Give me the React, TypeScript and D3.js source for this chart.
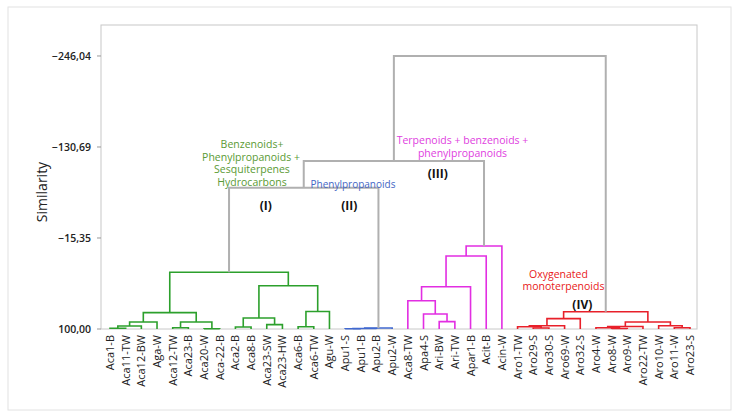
import React from "react";
import * as d3 from "d3";

const leaves = [
  "Aca1-B", "Aca11-TW", "Aca12-BW", "Aga-W", "Aca12-TW", "Aca23-B", "Aca20-W", "Aca-22-B",
  "Aca2-B", "Aca8-B", "Aca23-SW", "Aca23-HW", "Aca6-B", "Aca6-TW", "Agu-W",
  "Apu1-S", "Apu1-B", "Apu2-B", "Apu2-W",
  "Aca8-TW", "Apa4-S", "Ari-BW", "Ari-TW", "Apar1-B", "Acit-B", "Acin-W",
  "Aro1-TW", "Aro29-S", "Aro30-S", "Aro69-W", "Aro32-S", "Aro4-W", "Aro8-W", "Aro9-W",
  "Aro22-TW", "Aro10-W", "Aro11-W", "Aro23-S",
];

// [left child, right child, similarity, group]; "#k" refers to merge k
const merges: [string, string, number, string][] = [
  ["Aca1-B", "Aca11-TW", 99.1, "I"], // 0
  ["#0", "Aca12-BW", 96.2, "I"], // 1
  ["#1", "Aga-W", 91.1, "I"], // 2
  ["Aca12-TW", "Aca23-B", 98.35, "I"], // 3
  ["Aca20-W", "Aca-22-B", 99.6, "I"], // 4
  ["#3", "#4", 91.1, "I"], // 5
  ["#2", "#5", 79.3, "I"], // 6
  ["Aca2-B", "Aca8-B", 97.5, "I"], // 7
  ["Aca23-SW", "Aca23-HW", 94.5, "I"], // 8
  ["#7", "#8", 86.1, "I"], // 9
  ["Aca6-B", "Aca6-TW", 97.1, "I"], // 10
  ["#10", "Agu-W", 77.8, "I"], // 11
  ["#9", "#11", 45.1, "I"], // 12
  ["#6", "#12", 28.1, "I"], // 13
  ["Apu1-S", "Apu1-B", 99.7, "II"], // 14
  ["#14", "Apu2-B", 99.3, "II"], // 15
  ["#15", "Apu2-W", 98.8, "II"], // 16
  ["#13", "#16", -79.1, "root"], // 17
  ["Ari-BW", "Ari-TW", 90.7, "III"], // 18
  ["Apa4-S", "#18", 81.0, "III"], // 19
  ["Aca8-TW", "#19", 64.1, "III"], // 20
  ["#20", "Apar1-B", 46.4, "III"], // 21
  ["#21", "Acit-B", 7.5, "III"], // 22
  ["#22", "Acin-W", -5.2, "III"], // 23
  ["#17", "#23", -112.95, "root"], // 24
  ["Aro29-S", "Aro30-S", 98.7, "IV"], // 25
  ["Aro1-TW", "#25", 97.1, "IV"], // 26
  ["#26", "Aro69-W", 95.8, "IV"], // 27
  ["#27", "Aro32-S", 86.9, "IV"], // 28
  ["Aro8-W", "Aro9-W", 99.4, "IV"], // 29
  ["Aro4-W", "#29", 98.5, "IV"], // 30
  ["#30", "Aro22-TW", 96.8, "IV"], // 31
  ["Aro11-W", "Aro23-S", 98.35, "IV"], // 32
  ["Aro10-W", "#32", 95.8, "IV"], // 33
  ["#31", "#33", 91.1, "IV"], // 34
  ["#28", "#34", 78.1, "IV"], // 35
  ["#24", "#35", -246.04, "root"], // 36
];

const yTicks = [100, -15.35, -130.69, -246.04];

const groupColors: Record<string, string> = {
  I: "#2ca02c",
  II: "#4169d0",
  III: "#e22ee2",
  IV: "#e8202a",
  root: "#b0b0b0",
};

const fmt = d3.formatLocale({ decimal: ",", thousands: ".", grouping: [3], currency: ["", ""] }).format(".2f");

export default function App() {
  const W = 738, H = 418;
  const left = 101, right = 697, top = 25, bottom = 329;
  const x = d3.scalePoint<string>().domain(leaves).range([110, 690]).padding(0);
  const y = d3.scaleLinear().domain([100, -285.3]).range([bottom, top]);

  const pos: { x: number; h: number }[] = [];
  const get = (id: string) => {
    if (id.startsWith("#")) return pos[+id.slice(1)];
    return { x: x(id) as number, h: 100 };
  };
  const segs: { d: string; color: string }[] = [];
  merges.forEach(([a, b, h, g]) => {
    const A = get(a), B = get(b);
    const path = d3.path();
    path.moveTo(A.x, y(A.h));
    path.lineTo(A.x, y(h));
    path.lineTo(B.x, y(h));
    path.lineTo(B.x, y(B.h));
    segs.push({ d: path.toString(), color: groupColors[g] });
    pos.push({ x: (A.x + B.x) / 2, h });
  });

  const font = "'Open Sans', 'Noto Sans', sans-serif";

  return (
    <svg width={W} height={H} style={{ position: "absolute", left: 0, top: 0, background: "#fff" }} fontFamily={font}>
      <rect x={8} y={7} width={723} height={403} fill="none" stroke="#e2e2e2" />
      <rect x={left} y={top} width={right - left} height={bottom - top} fill="none" stroke="#c8c8c8" strokeWidth={1} />
      {yTicks.map((t) => (
        <g key={t}>
          <line x1={left - 4} x2={left} y1={y(t)} y2={y(t)} stroke="#999" />
          <text x={91} y={y(t)} dy="0.35em" textAnchor="end" fontSize={10.5} fontWeight={600} fill="#222">
            {fmt(t)}
          </text>
        </g>
      ))}
      <text transform={`translate(47,192) rotate(-90)`} textAnchor="middle" fontSize={14} fill="#222">
        Similarity
      </text>
      {segs.map((s, i) => (
        <path key={i} d={s.d} fill="none" stroke={s.color} strokeWidth={s.color === groupColors.root ? 2 : 1.6} />
      ))}
      {leaves.map((l) => (
        <text key={l} transform={`translate(${(x(l) as number) + 4},335) rotate(-90)`} textAnchor="end" fontSize={11} fill="#222">
          {l}
        </text>
      ))}
      <g fontSize={10.5} textAnchor="middle">
        <g fill="#5a9a34">
          <text x={252} y={148}>Benzenoids+</text>
          <text x={251} y={160.5}>Phenylpropanoids +</text>
          <text x={252} y={173}>Sesquiterpenes</text>
          <text x={252} y={185.5}>Hydrocarbons</text>
        </g>
        <text x={353} y={187.5} fontSize={10} fill="#4466c4">Phenylpropanoids</text>
        <g fill="#e040e0">
          <text x={462.5} y={143.5}>Terpenoids + benzenoids +</text>
          <text x={462.5} y={156.5}>phenylpropanoids</text>
        </g>
        <g fill="#e82020">
          <text x={558.5} y={277.5}>Oxygenated</text>
          <text x={563.5} y={290}>monoterpenoids</text>
        </g>
      </g>
      <g fontSize={12} fontWeight={700} textAnchor="middle" fill="#111">
        <text x={265.7} y={210}>(I)</text>
        <text x={349.3} y={210}>(II)</text>
        <text x={437.7} y={177.5}>(III)</text>
        <text x={582.3} y={308.5}>(IV)</text>
      </g>
    </svg>
  );
}
